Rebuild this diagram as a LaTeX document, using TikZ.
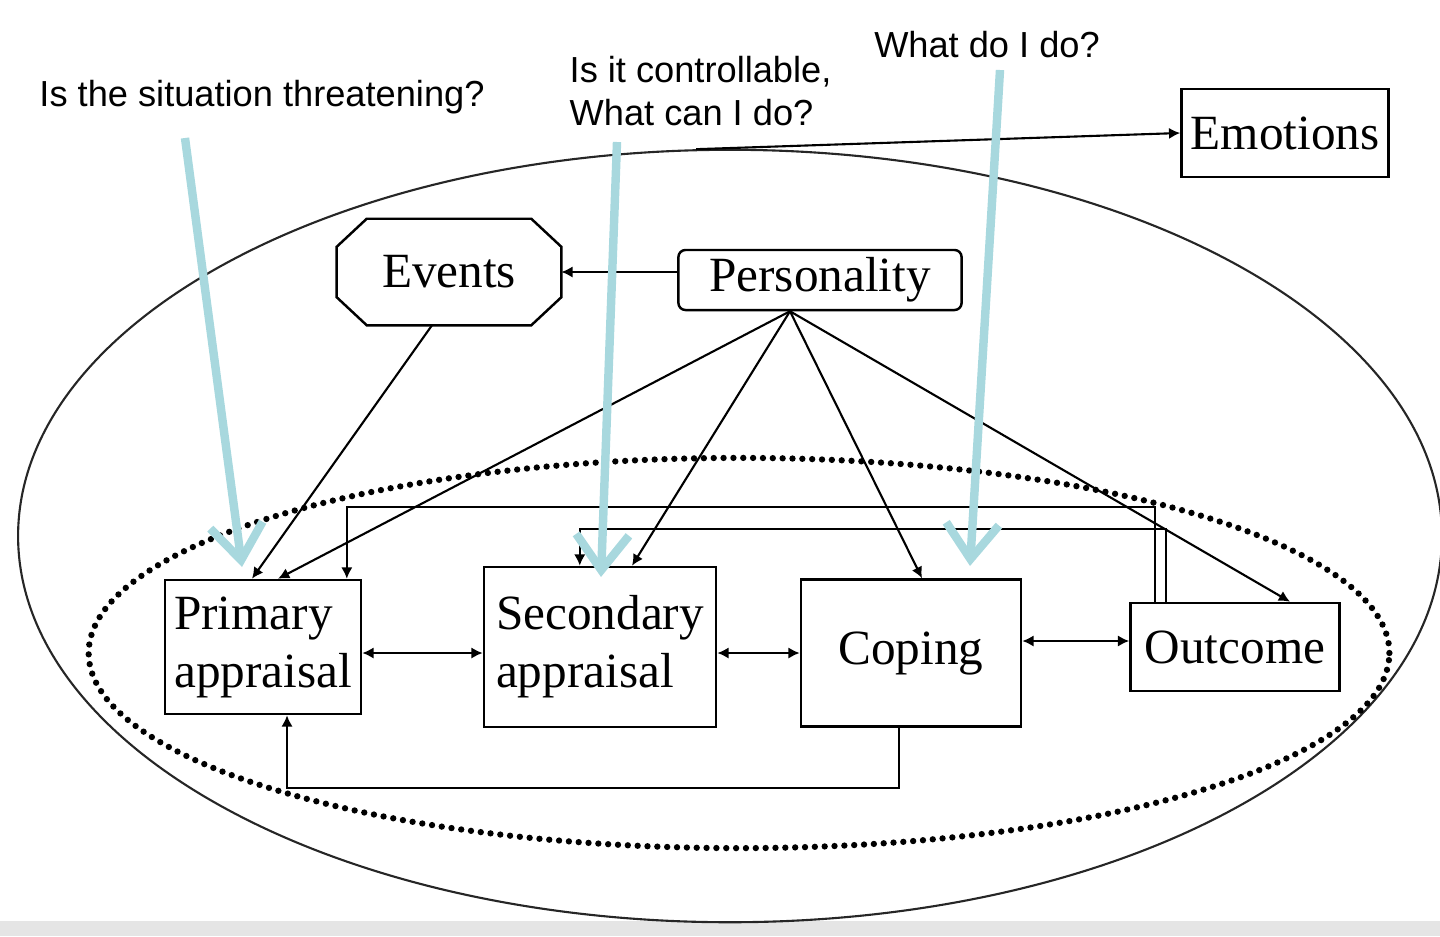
\documentclass[tikz,border=0pt]{standalone}
\usepackage{fontspec}
\setmainfont{Liberation Serif}
\setsansfont{Liberation Sans}
\usepackage{tikz}
\usetikzlibrary{arrows.meta,shapes.geometric}
\definecolor{hintblue}{RGB}{168,216,222}
\tikzstyle{stage} = [draw, rectangle, line width=0.7pt, inner sep=0pt, align=left, font=\fontsize{14}{16.5}\selectfont]
\tikzstyle{question} = [inner sep=0pt, align=left, font=\sffamily\fontsize{10.3}{12}\selectfont]
\tikzstyle{link} = [line width=0.6pt, -{Latex[length=3.2pt,width=3.2pt]}]
\tikzstyle{bothways} = [line width=0.6pt, {Latex[length=3.2pt,width=3.2pt]}-{Latex[length=3.2pt,width=3.2pt]}]
\tikzstyle{hint} = [draw=hintblue, line width=2.4pt, -{Straight Barb[length=10pt,width=15pt]}]

\begin{document}
\begin{tikzpicture}[x=0.01cm, y=-0.01cm]
		\useasboundingbox (0,0) rectangle (1440,936);
		\fill[gray!20] (0,921) rectangle (1440,936);
		\node[draw=black!85, ellipse, line width=0.6pt, inner sep=0pt, minimum width=14.23cm, minimum height=7.72cm] (outer) at (730,536) {};
		\node[draw, ellipse, line width=1.8pt, dash pattern=on 0pt off 2.8pt, line cap=round, inner sep=0pt, minimum width=13cm, minimum height=3.9cm] (inner) at (739,653) {};
		
		\node[stage, minimum width=2.07cm, minimum height=0.88cm] (emotions) at (1285,133) {Emotions};
		\node[stage, rounded corners=2pt, minimum width=2.83cm, minimum height=0.6cm] (personality) at (820,280) {Personality};
		\node[stage, draw=none, minimum width=2.22cm, minimum height=1.04cm] (events) at (449,272) {Events};
		\draw[line width=0.7pt] ([xshift=.3cm]events.north west) -- ([xshift=-.3cm]events.north east) -- ([yshift=-.28cm]events.north east) -- ([yshift=.28cm]events.south east) -- ([xshift=-.3cm]events.south east) -- ([xshift=.3cm]events.south west) -- ([yshift=.28cm]events.south west) -- ([yshift=-.28cm]events.north west) -- cycle;
		\node[stage, minimum width=1.96cm, minimum height=1.34cm] (primary) at (263,647) {Primary\\appraisal};
		\node[stage, minimum width=2.32cm, minimum height=1.6cm] (secondary) at (600,647) {Secondary\\appraisal};
		\node[stage, minimum width=2.2cm, minimum height=1.47cm] (coping) at (911,653) {Coping};
		\node[stage, minimum width=2.09cm, minimum height=0.88cm] (outcome) at (1235,647) {Outcome};
		
		\node[question] (threat) at (262,97) {Is the situation threatening?};
		\node[question, anchor=west] (control) at (569,91) {Is it controllable,\\What can I do?};
		\node[question] (todo) at (987,45) {What do I do?};
		
		\draw[link] (outer.95) -- (emotions.west);
		\draw[link] (personality.west |- events.east) -- (events.east);
		\coordinate (fan) at ([xshift=-.3cm]personality.south);
		\draw[link] ([xshift=-.17cm]events.south) -- ([xshift=-.11cm]primary.north);
		\draw[link] (fan) -- ([xshift=.15cm]primary.north);
		\draw[link] (fan) -- ([xshift=.32cm]secondary.north);
		\draw[link] (fan) -- ([xshift=.11cm]coping.north);
		\draw[link] (fan) -- ([xshift=.55cm]outcome.north);
		\draw[link] ([xshift=.26cm]outcome.north west) -- ++(0,-95) -| ([xshift=1.83cm]primary.north west);
		\draw[link] ([xshift=.37cm]outcome.north west) -- ++(0,-73) -| ([xshift=.97cm]secondary.north west);
		\draw[link] ([xshift=-.12cm]coping.south) -- ++(0,60) -| ([xshift=.24cm]primary.south);
		\draw[bothways] (coping.west -| primary.east) -- (coping.west -| secondary.west);
		\draw[bothways] (coping.west -| secondary.east) -- (coping.west);
		\coordinate (oc) at ([yshift=.06cm]outcome.west);
		\draw[bothways] (oc -| coping.east) -- (oc);
		
		\coordinate (threat-s) at (185,138);
		\coordinate (threat-e) at (242,567);
		\coordinate (control-s) at (617,142);
		\coordinate (control-e) at (601,577);
		\coordinate (todo-s) at (1000,70);
		\coordinate (todo-e) at (970,566);
		\draw[hint] (threat-s) -- (threat-e);
		\draw[hint] (control-s) -- (control-e);
		\draw[hint] (todo-s) -- (todo-e);
	\end{tikzpicture}
\end{document}
